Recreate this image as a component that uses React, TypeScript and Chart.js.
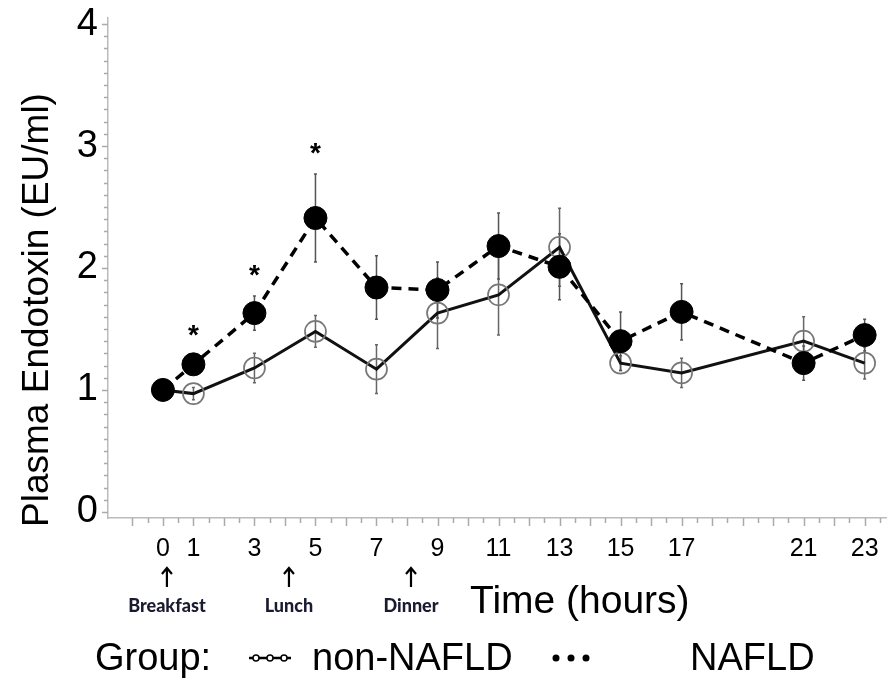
import React, { useEffect, useRef } from "react";
import { Chart, registerables } from "chart.js";

Chart.register(...registerables);

// ---- data ----
const hours = [0, 1, 3, 5, 7, 9, 11, 13, 15, 17, 21, 23];
const nonNafld = [1.0, 0.97, 1.18, 1.48, 1.17, 1.63, 1.78, 2.17, 1.22, 1.14, 1.4, 1.22];
const nonNafldErr = [0, 0.05, 0.12, 0.13, 0.2, 0.29, 0.33, 0.32, 0.06, 0.12, 0.2, 0.13];
const nafld = [1.0, 1.21, 1.63, 2.41, 1.84, 1.82, 2.18, 2.01, 1.4, 1.64, 1.22, 1.45];
const nafldErr = [0, 0.06, 0.14, 0.36, 0.26, 0.23, 0.27, 0.27, 0.24, 0.23, 0.14, 0.13];
const xTickLabels = [0, 1, 3, 5, 7, 9, 11, 13, 15, 17, 21, 23];
const yTickLabels = [0, 1, 2, 3, 4];
const sigHours = [1, 3, 5];
const sigY = [1.49, 1.98, 2.98];
const mealHours = [0, 4, 8];
const mealLabels = ["Breakfast", "Lunch", "Dinner"];
const seriesNames = ["non-NAFLD", "NAFLD"];

const SANS = "'Liberation Sans', Arial, sans-serif";
const NARROW = "'Liberation Sans Narrow', 'Liberation Sans', Arial, sans-serif";

const decorPlugin = {
  id: "decor",
  beforeDatasetsDraw(chart: any) {
    const ctx = chart.ctx;
    const xs = chart.scales.x;
    const ys = chart.scales.y;
    ctx.save();
    const drawErr = (vals: number[], errs: number[], color: string) => {
      ctx.strokeStyle = color;
      ctx.lineWidth = 1.5;
      hours.forEach((h, i) => {
        if (!errs[i]) return;
        const x = xs.getPixelForValue(h);
        const y1 = ys.getPixelForValue(vals[i] + errs[i]);
        const y2 = ys.getPixelForValue(vals[i] - errs[i]);
        ctx.beginPath();
        ctx.moveTo(x, y1);
        ctx.lineTo(x, y2);
        ctx.moveTo(x - 1.5, y1);
        ctx.lineTo(x + 1.5, y1);
        ctx.moveTo(x - 1.5, y2);
        ctx.lineTo(x + 1.5, y2);
        ctx.stroke();
      });
    };
    drawErr(nonNafld, nonNafldErr, "#666");
    drawErr(nafld, nafldErr, "#555");
    ctx.restore();
  },
  afterDraw(chart: any) {
    const ctx = chart.ctx;
    const xs = chart.scales.x;
    const ys = chart.scales.y;
    const area = chart.chartArea;
    ctx.save();
    // custom tick marks
    ctx.strokeStyle = "#aaa";
    ctx.lineWidth = 1.5;
    for (let v = -1; v <= 23.5; v += 0.5) {
      const x = Math.round(xs.getPixelForValue(v)) + 0.5;
      const len = Number.isInteger(v) ? 8 : 5;
      ctx.beginPath();
      ctx.moveTo(x, area.bottom);
      ctx.lineTo(x, area.bottom + len);
      ctx.stroke();
    }
    for (let k = 0; k <= 40; k++) {
      const v = k / 10;
      const y = Math.round(ys.getPixelForValue(v)) + 0.5;
      const len = k % 10 === 0 ? 6 : 4;
      ctx.beginPath();
      ctx.moveTo(area.left, y);
      ctx.lineTo(area.left - len, y);
      ctx.stroke();
    }

    ctx.fillStyle = "#000";
    // y axis title
    ctx.save();
    ctx.translate(38, 310);
    ctx.rotate(-Math.PI / 2);
    ctx.font = `37px ${SANS}`;
    ctx.textAlign = "center";
    ctx.textBaseline = "middle";
    ctx.fillText("Plasma Endotoxin (EU/ml)", 0, 0);
    ctx.restore();

    // x axis title
    ctx.font = `39px ${SANS}`;
    ctx.textAlign = "left";
    ctx.textBaseline = "middle";
    ctx.fillText("Time (hours)", 470, 602);

    // meal arrows + labels
    mealHours.forEach((h, i) => {
      const x = xs.getPixelForValue(h) + 4;
      ctx.strokeStyle = "#000";
      ctx.lineWidth = 2.2;
      ctx.beginPath();
      ctx.moveTo(x, 587);
      ctx.lineTo(x, 568);
      ctx.moveTo(x - 5, 574);
      ctx.lineTo(x, 568);
      ctx.lineTo(x + 5, 574);
      ctx.stroke();
      ctx.fillStyle = "#1a1a30";
      ctx.font = `900 18px Lato, ${SANS}`;
      ctx.textAlign = "center";
      ctx.textBaseline = "middle";
      ctx.fillText(mealLabels[i], x, 606);
    });

    // significance asterisks
    ctx.fillStyle = "#000";
    ctx.font = `bold 28px ${SANS}`;
    ctx.textAlign = "center";
    ctx.textBaseline = "alphabetic";
    const m = ctx.measureText("*");
    sigHours.forEach((h, i) => {
      const x = xs.getPixelForValue(h);
      const cy = ys.getPixelForValue(sigY[i]);
      const base = cy - (m.actualBoundingBoxDescent - m.actualBoundingBoxAscent) / 2;
      ctx.fillText("*", x, base);
    });

    // legend
    const ly = 658;
    ctx.font = `38px ${SANS}`;
    ctx.textAlign = "left";
    ctx.textBaseline = "middle";
    ctx.fillStyle = "#000";
    ctx.fillText("Group:", 95, ly + 2);
    ctx.strokeStyle = "#000";
    ctx.lineWidth = 2.5;
    ctx.beginPath();
    ctx.moveTo(249, ly);
    ctx.lineTo(291, ly);
    ctx.stroke();
    ctx.lineWidth = 1.5;
    [256, 270, 284].forEach((cx) => {
      ctx.beginPath();
      ctx.arc(cx, ly, 3, 0, Math.PI * 2);
      ctx.fillStyle = "#fff";
      ctx.fill();
      ctx.stroke();
    });
    ctx.fillStyle = "#000";
    ctx.fillText(seriesNames[0], 312, ly + 2);
    [556, 571, 586].forEach((cx) => {
      ctx.beginPath();
      ctx.arc(cx, ly, 3.5, 0, Math.PI * 2);
      ctx.fill();
    });
    ctx.fillText(seriesNames[1], 690, ly + 2);
    ctx.restore();
  },
};

export default function App() {
  const ref = useRef<HTMLCanvasElement>(null);
  useEffect(() => {
    document.body.style.margin = "0";
    const canvas = ref.current!;
    const chart = new Chart(canvas, {
      type: "line",
      data: {
        datasets: [
          {
            label: seriesNames[1],
            data: hours.map((h, i) => ({ x: h, y: nafld[i] })),
            borderColor: "#000",
            borderWidth: 3.5,
            borderDash: [10, 7],
            pointRadius: 11.5,
            pointBackgroundColor: "#000",
            pointBorderColor: "#000",
            pointBorderWidth: 1,
            order: 0,
            tension: 0,
            clip: false,
          },
          {
            label: seriesNames[0],
            data: hours.map((h, i) => ({ x: h, y: nonNafld[i] })),
            borderColor: "#111",
            borderWidth: 3,
            pointRadius: 10.5,
            pointBackgroundColor: "rgba(0,0,0,0)",
            pointBorderColor: "#777",
            pointBorderWidth: 1.7,
            order: 1,
            tension: 0,
            clip: false,
          },
        ],
      },
      options: {
        responsive: false,
        devicePixelRatio: 1,
        animation: false,
        layout: { autoPadding: false, padding: { top: 18, right: 1, left: 0, bottom: 0 } },
        plugins: { legend: { display: false }, tooltip: { enabled: false } },
        scales: {
          x: {
            type: "linear",
            min: -1.8,
            max: 23.7,
            afterBuildTicks: (s: any) => {
              s.ticks = xTickLabels.map((v) => ({ value: v }));
            },
            afterFit: (s: any) => {
              s.height = 165;
              s.paddingLeft = 0;
              s.paddingRight = 0;
            },
            ticks: {
              autoSkip: false,
              maxRotation: 0,
              padding: 16,
              color: "#000",
              font: { family: NARROW, size: 25 },
            },
            grid: { display: false, drawTicks: false },
            border: { display: true, color: "#bbb", width: 1.5 },
          },
          y: {
            min: -0.05,
            max: 4.05,
            afterBuildTicks: (s: any) => {
              s.ticks = yTickLabels.map((v) => ({ value: v }));
            },
            afterFit: (s: any) => {
              s.width = 108;
              s.paddingTop = 0;
              s.paddingBottom = 0;
            },
            ticks: {
              padding: 10,
              color: "#000",
              font: { family: SANS, size: 38 },
            },
            grid: { display: false, drawTicks: false },
            border: { display: true, color: "#bbb", width: 1.5 },
          },
        },
      },
      plugins: [decorPlugin],
    });
    return () => chart.destroy();
  }, []);
  return <canvas ref={ref} width={887} height={683} style={{ display: "block" }} />;
}
